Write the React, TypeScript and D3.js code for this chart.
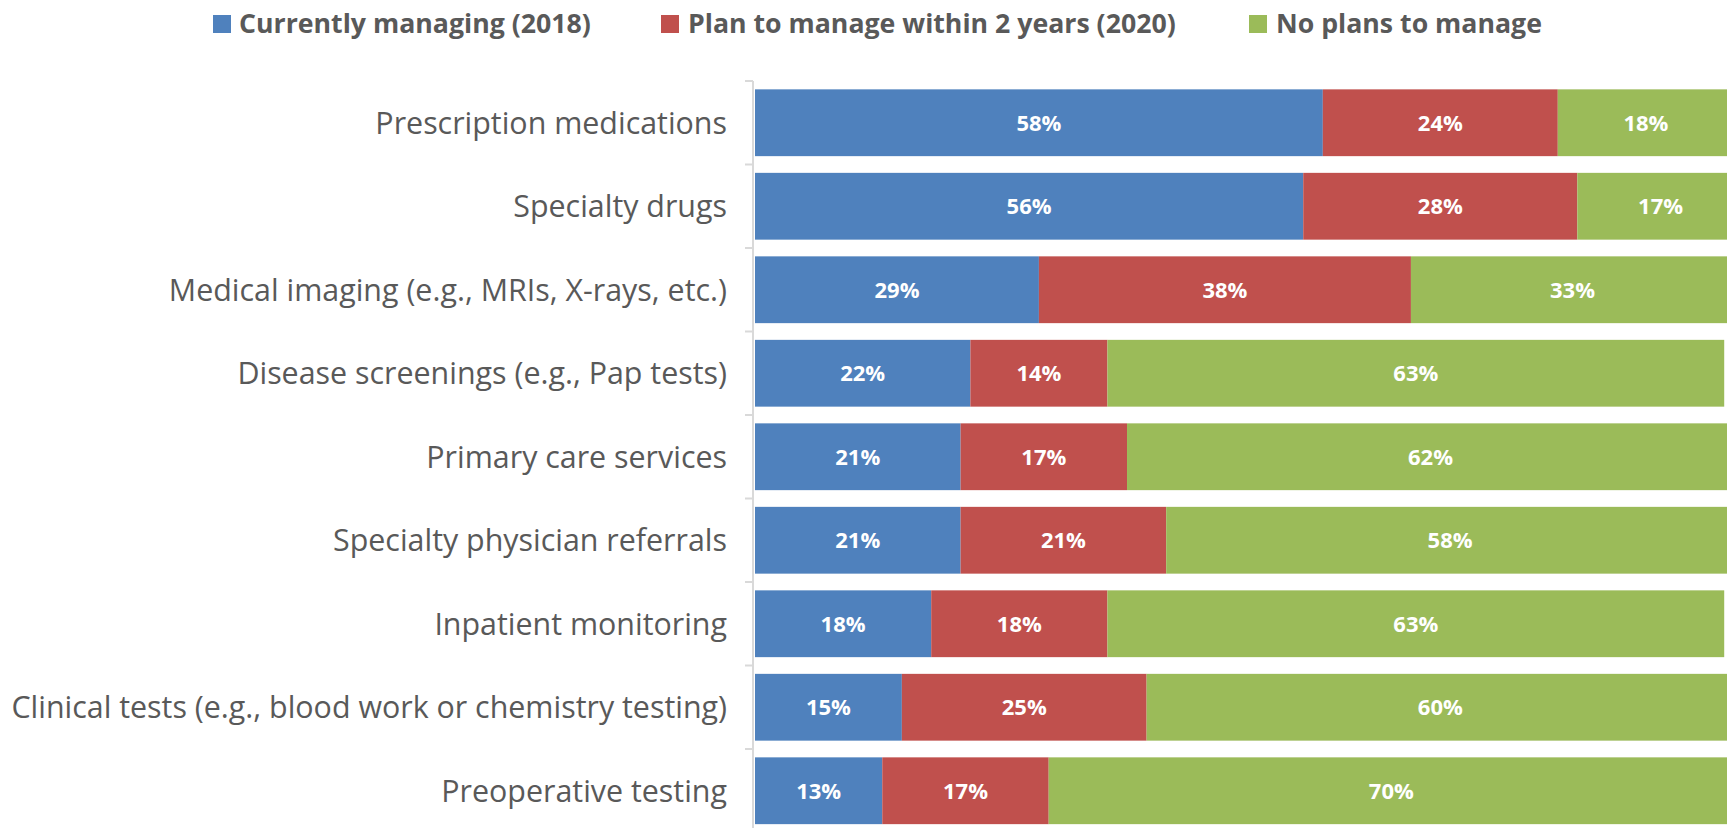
import React from "react";
import * as d3 from "d3";

// categories, top to bottom
const categories = [
  "Prescription medications",
  "Specialty drugs",
  "Medical imaging (e.g., MRIs, X-rays, etc.)",
  "Disease screenings (e.g., Pap tests)",
  "Primary care services",
  "Specialty physician referrals",
  "Inpatient monitoring",
  "Clinical tests (e.g., blood work or chemistry testing)",
  "Preoperative testing",
];

const seriesNames = [
  "Currently managing (2018)",
  "Plan to manage within 2 years (2020)",
  "No plans to manage",
];

const currentlyManaging = [58, 56, 29, 22, 21, 21, 18, 15, 13];
const planToManage = [24, 28, 38, 14, 17, 21, 18, 25, 17];
const noPlans = [18, 17, 33, 63, 62, 58, 63, 60, 70];

const colors = ["#4f81bd", "#c0504d", "#9bbb59"];

const width = 1727;
const height = 828;
const font = "'Open Sans', Lato, sans-serif";

const App = () => {
  const rows = categories.map((c, i) => ({
    category: c,
    s0: currentlyManaging[i],
    s1: planToManage[i],
    s2: noPlans[i],
  }));

  const stack = d3.stack<any>().keys(["s0", "s1", "s2"]);
  const layers = stack(rows);

  const x = d3.scaleLinear().domain([0, 100]).range([755, 1734]);

  const y = d3
    .scaleBand()
    .domain(categories)
    .range([81, 81 + 9 * 83.5])
    .paddingInner(0.2)
    .paddingOuter(0.1);

  const step = y.step();
  const axisX = 753;

  // legend layout
  const legend = [
    { sq: 213, tx: 239 },
    { sq: 661, tx: 688 },
    { sq: 1249, tx: 1276 },
  ];

  return (
    <svg
      width={width}
      height={height}
      style={{ position: "absolute", left: 0, top: 0, background: "#fff" }}
    >
      {/* Legend */}
      {seriesNames.map((name, i) => (
        <g key={name}>
          <rect x={legend[i].sq} y={15} width={18} height={18} fill={colors[i]} />
          <text
            x={legend[i].tx}
            y={33}
            fontFamily={font}
            fontWeight="bold"
            fontSize={26.7}
            fill="#595959"
          >
            {name}
          </text>
        </g>
      ))}

      {/* Bars */}
      {layers.map((layer, li) => (
        <g key={layer.key} fill={colors[li]}>
          {layer.map((d, i) => (
            <rect
              key={i}
              x={x(d[0])}
              y={y(categories[i])}
              width={x(d[1]) - x(d[0])}
              height={y.bandwidth()}
            />
          ))}
        </g>
      ))}

      {/* Data labels */}
      {layers.map((layer, li) => (
        <g key={"l" + layer.key}>
          {layer.map((d, i) => (
            <text
              key={i}
              x={(x(d[0]) + x(d[1])) / 2}
              y={(y(categories[i]) as number) + y.bandwidth() / 2}
              dy="0.36em"
              textAnchor="middle"
              fontFamily={font}
              fontWeight="bold"
              fontSize={22}
              fill="#fff"
            >
              {d[1] - d[0]}%
            </text>
          ))}
        </g>
      ))}

      {/* Category axis */}
      <line x1={axisX} x2={axisX} y1={81} y2={81 + 9 * step} stroke="#d9d9d9" strokeWidth={2} />
      {d3.range(10).map((k) => (
        <line
          key={k}
          x1={745}
          x2={axisX}
          y1={81 + k * step}
          y2={81 + k * step}
          stroke="#d9d9d9"
          strokeWidth={2}
        />
      ))}
      {categories.map((c) => (
        <text
          key={c}
          x={727}
          y={(y(c) as number) + y.bandwidth() / 2}
          dy="0.36em"
          textAnchor="end"
          fontFamily={font}
          fontSize={30.4}
          fill="#595959"
        >
          {c}
        </text>
      ))}
    </svg>
  );
};

export default App;
